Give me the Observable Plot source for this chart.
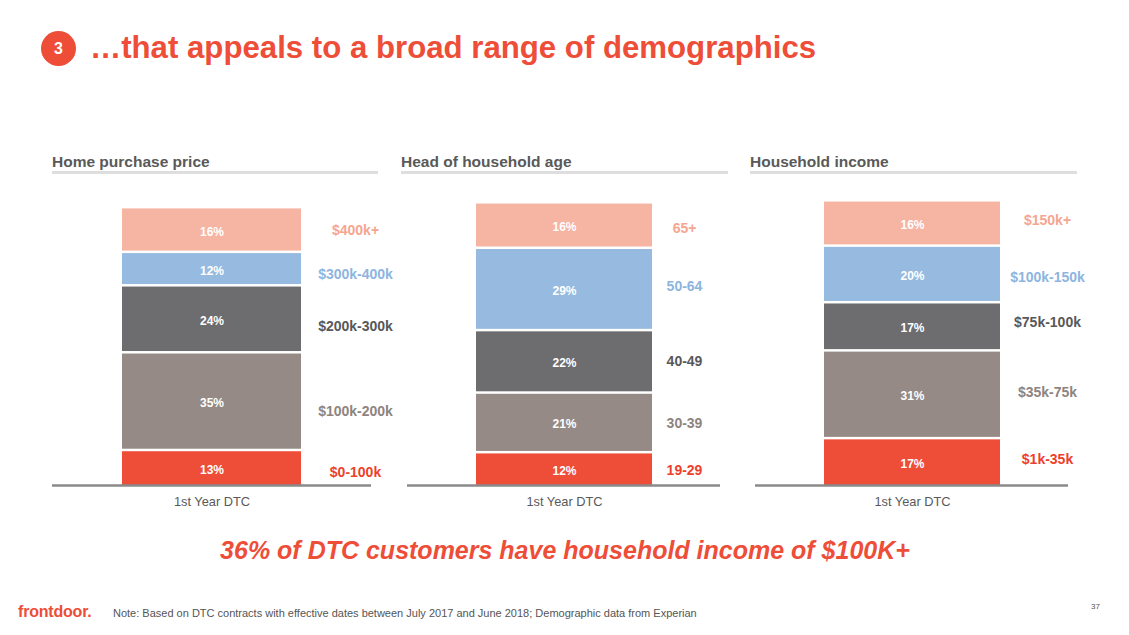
<!DOCTYPE html>
<html>
<head>
<meta charset="utf-8">
<script src="https://cdn.jsdelivr.net/npm/d3@7"></script>
<script src="https://cdn.jsdelivr.net/npm/@observablehq/plot@0.6"></script>
<style>
  html, body { margin: 0; padding: 0; background: #fff; }
  #page { position: relative; width: 1129px; height: 635px; overflow: hidden; font-family: "Liberation Sans", Arial, sans-serif; }
  .abs { position: absolute; white-space: nowrap; }
  .badge { left: 41px; top: 31px; width: 35px; height: 35px; border-radius: 50%; background: #EE4D38; color: #fff; font-weight: bold; font-size: 16px; line-height: 35px; text-align: center; }
  .title { left: 90px; top: 30px; font-size: 31.2px; line-height: 36px; font-weight: bold; color: #EE4D38; }
  .ptitle { font-size: 15.5px; font-weight: bold; color: #595959; line-height: 18px; }
  .prule { height: 2.5px; background: #dedede; }
  .headline { left: 0; width: 1130px; text-align: center; top: 535px; font-size: 25px; line-height: 30px; font-weight: bold; font-style: italic; color: #EE4D38; }
  .logo { left: 18px; top: 602.5px; font-size: 16px; line-height: 18px; font-weight: bold; color: #EE4D38; letter-spacing: -0.2px; }
  .note { left: 113px; top: 606.5px; font-size: 11px; line-height: 13px; color: #555; }
  .pnum { left: 1091px; top: 602px; font-size: 8px; line-height: 10px; color: #555; }
</style>
</head>
<body>
<div id="page"></div>
<script>
// ---- data ----
const xLabel = "1st Year DTC";
const panelTitles = ["Home purchase price", "Head of household age", "Household income"];
const priceCats = ["$0-100k", "$100k-200k", "$200k-300k", "$300k-400k", "$400k+"];
const priceVals = [13, 35, 24, 12, 16];
const ageCats = ["19-29", "30-39", "40-49", "50-64", "65+"];
const ageVals = [12, 21, 22, 29, 16];
const incomeCats = ["$1k-35k", "$35k-75k", "$75k-100k", "$100k-150k", "$150k+"];
const incomeVals = [17, 31, 17, 20, 16];
const headline = "36% of DTC customers have household income of $100K+";
const note = "Note: Based on DTC contracts with effective dates between July 2017 and June 2018; Demographic data from Experian";

// ---- styles (bottom to top of each stack) ----
const barColors = ["#EE4D38", "#958A85", "#6D6C6E", "#97BBE0", "#F6B4A2"];
const labelColors = ["#EE3F2A", "#8E847F", "#58585A", "#8DB5E0", "#F5A690"];

const page = document.getElementById("page");
function addDiv(cls, text, style) {
  const d = document.createElement("div");
  d.className = "abs " + cls;
  if (text != null) d.textContent = text;
  Object.assign(d.style, style || {});
  page.appendChild(d);
  return d;
}
addDiv("badge", "3");
addDiv("title", "\u2026that appeals to a broad range of demographics");
addDiv("headline", headline);
addDiv("logo", "frontdoor.");
addDiv("note", note);
addDiv("pnum", "37");

const panels = [
  {cats: priceCats, vals: priceVals, left: 52, W: 319, titleLeft: 52, ruleW: 326, ymax: 105.7, dx: 143.5, ldy: [5, 11, 8, 7, 2]},
  {cats: ageCats, vals: ageVals, left: 407, W: 313, titleLeft: 401, ruleW: 327, ymax: 103.9, dx: 120, ldy: [2, 2, 1, -2, 4]},
  {cats: incomeCats, vals: incomeVals, left: 755, W: 313, titleLeft: 750, ruleW: 327, ymax: 104.2, dx: 135, ldy: [-2, -1, -3, 4, -2]}
];

panels.forEach((p, i) => {
  addDiv("ptitle", panelTitles[i], {left: p.titleLeft + "px", top: "152.6px"});
  addDiv("prule", null, {left: p.titleLeft + "px", top: "171px", width: p.ruleW + "px"});

  const data = p.cats.map((c, j) => ({cat: c, value: p.vals[j], idx: j}));
  const svgW = 390;
  const chart = Plot.plot({
    width: svgW,
    height: 340,
    marginLeft: 0,
    marginRight: svgW - p.W,
    marginTop: 10,
    marginBottom: 35,
    style: {fontFamily: "'Liberation Sans', Arial, sans-serif", background: "transparent", overflow: "visible"},
    x: {type: "band", domain: [xLabel], padding: 0.28, label: null},
    y: {domain: [0, p.ymax], axis: null},
    color: {domain: p.cats, range: barColors},
    marks: [
      Plot.barY(data, Plot.stackY({x: () => xLabel, y: "value", fill: "cat", insetTop: 2.5})),
      Plot.text(data, Plot.stackY({x: () => xLabel, y: "value", text: d => d.value + "%", dy: 3, fill: "white", fontWeight: "bold", fontSize: 12})),
      ...data.map((d, j) =>
        Plot.text(data, Plot.stackY({
          x: () => xLabel, y: "value", text: (r) => r.idx === j ? r.cat : "",
          dx: p.dx, dy: p.ldy[j], fill: labelColors[j], fontWeight: "bold", fontSize: 14, textAnchor: "middle"
        }))
      ),
      Plot.ruleY([0], {stroke: "#8a8a8a", strokeWidth: 2.5}),
      Plot.axisX({tickSize: 0, tickPadding: 11.6, fontSize: 12.8, fill: "#595959", label: null})
    ]
  });
  chart.style.position = "absolute";
  chart.style.left = p.left + "px";
  chart.style.top = "180px";
  page.appendChild(chart);
});
</script>
</body>
</html>
